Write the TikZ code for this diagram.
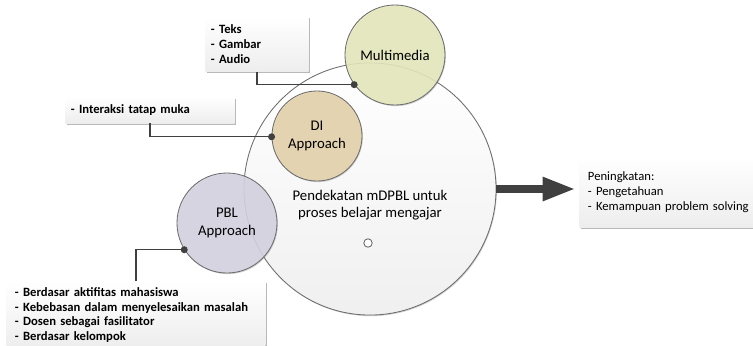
\documentclass[tikz,border=0pt]{standalone}
\usepackage{fontspec}
\setmainfont{Carlito}
\usepackage{tikz}
\usetikzlibrary{arrows.meta,shadows}

\definecolor{mmfill}{RGB}{232,235,190}
\definecolor{difill}{RGB}{232,212,172}
\definecolor{pblfill}{RGB}{216,213,228}
\definecolor{edgegray}{RGB}{64,64,64}

\begin{document}
\begin{tikzpicture}[x=0.025cm, y=-0.025cm, font=\fontsize{10.5}{12.5}\selectfont]
    \tikzstyle{circle_style} = [circle, draw=gray!85!black, line width=0.6pt, align=center, fill opacity=0.85, text opacity=1, drop shadow={shadow xshift=0.6pt, shadow yshift=-0.8pt, opacity=0.35}]
    \tikzstyle{box_style} = [rectangle, top color=white, bottom color=gray!14, inner sep=4pt, align=left, font=\fontsize{9}{10.6}\selectfont\bfseries, drop shadow={shadow xshift=1.2pt, shadow yshift=-1.2pt, opacity=0.55}]
    \tikzstyle{edge_style} = [draw=edgegray, line width=0.9pt]
    \tikzstyle{dot_style} = [circle, fill=edgegray, inner sep=0pt, minimum size=5pt]
    \tikzstyle{arrow_style} = [draw=edgegray, line width=5pt, -{Triangle[length=23pt, width=16pt]}]

    \useasboundingbox[fill=white] (0,0) rectangle (753,345);

    % main circle
    \node[circle_style, fill opacity=1, top color=white, bottom color=gray!12, minimum size=6.3cm] (big) at (370,189) {};
    \node[align=center] (main) at (370,205) {Pendekatan mDPBL untuk\\proses belajar mengajar};
    \node[circle, draw=gray!80!black, fill=white, line width=0.6pt, inner sep=0pt, minimum size=6pt] (mid) at (368,243) {};

    % small circles
    \node[circle_style, fill=mmfill, minimum size=2.5cm] (mm) at (395,55) {Multimedia};
    \node[circle_style, fill=difill, minimum size=2.25cm] (di) at (317,136) {DI\\Approach};
    \node[circle_style, fill=pblfill, minimum size=2.5cm] (pbl) at (227,223) {PBL\\Approach};

    % boxes
    \node[box_style, minimum width=2.5cm, minimum height=1.375cm, text width=2.3cm] (media) at (257,44) {- Teks\\- Gambar\\- Audio};
    \node[box_style, minimum width=4.15cm, minimum height=0.65cm, text width=3.95cm] (tatap) at (150,110) {- Interaksi tatap muka};
    \node[box_style, inner xsep=6pt, minimum width=6.35cm, minimum height=1.35cm, text width=6.05cm] (pblbox) at (136,315) {- Berdasar aktifitas mahasiswa\\- Kebebasan dalam menyelesaikan masalah\\- Dosen sebagai fasilitator\\- Berdasar kelompok};
    \node[box_style, font=\fontsize{9}{10.6}\selectfont, inner xsep=6pt, minimum width=4.6cm, minimum height=1.775cm, text width=4.2cm] (hasil) at (672,192) {Peningkatan:\\- Pengetahuan\\- Kemampuan problem solving};

    % connectors
    \draw[edge_style] (media.south) |- (mm.216);
    \node[dot_style] at (mm.216) {};
    \draw[edge_style] (tatap.south) |- (di.181);
    \node[dot_style] at (di.181) {};
    \draw[edge_style] (pblbox.north) |- (pbl.212);
    \node[dot_style] at (pbl.212) {};

    \draw[arrow_style] (big.east) -- ([xshift=-3pt]big.east -| hasil.west);
\end{tikzpicture}
\end{document}
